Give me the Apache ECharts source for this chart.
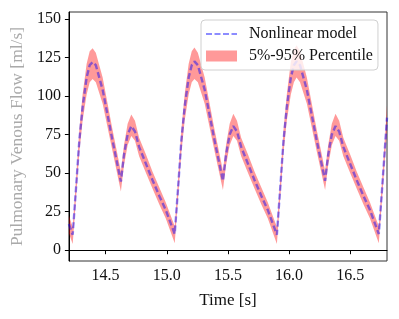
<!DOCTYPE html>
<html>
<head>
<meta charset="utf-8">
<script src="https://cdn.jsdelivr.net/npm/echarts@6/dist/echarts.min.js"></script>
<style>html,body{margin:0;padding:0;background:#fff}#c{width:399px;height:319px}</style>
</head>
<body>
<div id="c"></div>
<script>
// Time [s]
var time = [
  14.200, 14.231, 14.258, 14.285, 14.312, 14.345, 14.370, 14.394, 14.420, 14.476, 14.557, 14.625, 14.650, 14.680, 14.710, 14.740, 14.774, 14.830, 14.883, 14.940, 14.992,
  15.065, 15.092, 15.119, 15.146, 15.179, 15.204, 15.226, 15.254, 15.310, 15.391, 15.459, 15.484, 15.514, 15.544, 15.574, 15.608, 15.664, 15.717, 15.774, 15.826,
  15.900, 15.927, 15.954, 15.981, 16.014, 16.039, 16.061, 16.089, 16.145, 16.226, 16.294, 16.319, 16.349, 16.379, 16.409, 16.443, 16.499, 16.552, 16.609, 16.661,
  16.733, 16.760, 16.787, 16.800
];
// Nonlinear model flow [ml/s]
var flow = [
  17, 10, 40, 71, 93, 112, 120, 122, 120, 104, 71, 44.5, 62, 75, 80.5, 77, 67, 56, 45.5, 35, 26,
  10.5, 40, 71, 93, 112, 120, 122.5, 120, 104, 71, 45, 62, 75, 80.5, 77, 67, 56, 45.5, 35, 26,
  10, 40, 71, 93, 112, 120, 122.5, 120, 104, 71, 45, 62, 75, 80.5, 77, 67, 56, 45.5, 35, 26,
  10.5, 40, 71, 86
];
// 5% percentile
var lower = [
  11, 4, 33, 63, 84, 101, 109, 111, 109, 95, 64, 38, 55, 68, 74, 71, 61, 50, 40, 29.5, 20.5,
  4.5, 33, 63, 84, 101, 109, 111, 109, 95, 64, 39, 55, 68, 74, 71, 61, 50, 40, 29.5, 20.5,
  4, 33, 63, 84, 101, 109, 112, 109, 95, 64, 39, 55, 68, 74, 71, 61, 50, 40, 29.5, 20.5,
  4.5, 33, 63, 78
];
// 95% percentile
var upper = [
  22.5, 15, 46, 78, 101, 121, 129, 131, 128, 112, 78, 51, 68, 82, 88, 84, 73, 62, 51, 40.5, 31,
  15.5, 46, 78, 101, 121, 129, 131.5, 128, 112, 78, 51.5, 68, 82, 88.5, 84, 73, 62, 51, 40.5, 31,
  15, 46, 78, 101, 122, 130, 133, 129, 112, 78, 51.5, 68, 82, 88.5, 84, 73, 62, 51, 40.5, 31,
  15.5, 46, 78, 94
];
var yTicks = [0, 25, 50, 75, 100, 125, 150];
var xTicks = [14.5, 15.0, 15.5, 16.0, 16.5];

var FONT = 'Liberation Serif';
var bandData = time.map(function (t, i) { return [t, lower[i], upper[i]]; });
var linePts = time.map(function (t, i) { return [t, flow[i]]; });

var chart = echarts.init(document.getElementById('c'), null, {renderer: 'canvas'});
chart.setOption({
  animation: false,
  backgroundColor: '#fff',
  grid: {left: 68, right: 12, top: 12, bottom: 58, show: true, borderColor: '#333', borderWidth: 1, backgroundColor: 'transparent'},
  legend: {
    orient: 'vertical', left: 201, top: 20,
    itemWidth: 31, itemHeight: 11, itemGap: 6,
    padding: [6, 5, 6, 5],
    backgroundColor: 'rgba(255,255,255,0.8)',
    borderColor: '#d0d0d0', borderWidth: 1, borderRadius: 4,
    textStyle: {fontFamily: FONT, fontSize: 16, color: '#111', padding: [0, 0, 0, 7]},
    data: [
      {name: 'Nonlinear model',
       icon: 'path://M0,0h6v2h-6zM8.5,0h6v2h-6zM17,0h6v2h-6zM25.5,0h5.5v2h-5.5z',
       itemStyle: {color: 'rgba(0,0,255,0.45)'}},
      {name: '5%-95% Percentile', icon: 'rect', itemStyle: {color: 'rgba(255,0,0,0.4)'}}
    ]
  },
  xAxis: {
    type: 'value', min: 14.2, max: 16.8,
    name: 'Time [s]', nameLocation: 'middle', nameGap: 31,
    nameTextStyle: {fontFamily: FONT, fontSize: 17, color: '#111'},
    axisLine: {lineStyle: {color: '#000', width: 1}},
    axisTick: {show: true, length: 4, lineStyle: {color: '#000'}, customValues: xTicks},
    axisLabel: {fontFamily: FONT, fontSize: 16, color: '#111', margin: 7, customValues: xTicks,
      formatter: function (v) { return v.toFixed(1); }},
    splitLine: {show: false}
  },
  yAxis: {
    type: 'value', min: -7, max: 154.5,
    name: 'Pulmonary Venous Flow [ml/s]', nameLocation: 'middle', nameGap: 40, nameRotate: 90,
    nameTextStyle: {fontFamily: FONT, fontSize: 17.5, color: '#aaaaaa'},
    axisLine: {show: true, lineStyle: {color: '#000', width: 1}},
    axisTick: {show: true, length: 4, lineStyle: {color: '#000'}, customValues: yTicks},
    axisLabel: {fontFamily: FONT, fontSize: 16, color: '#111', margin: 8, customValues: yTicks},
    splitLine: {show: false}
  },
  series: [
    {
      name: '5%-95% Percentile', type: 'custom', data: bandData,
      encode: {x: 0, y: [1, 2]},
      itemStyle: {color: 'rgba(255,0,0,0.4)'},
      silent: true, z: 1,
      renderItem: function (params, api) {
        if (params.dataIndex !== 0) return null;
        var pts = [];
        var i;
        for (i = 0; i < bandData.length; i++) pts.push(api.coord([bandData[i][0], bandData[i][2]]));
        for (i = bandData.length - 1; i >= 0; i--) pts.push(api.coord([bandData[i][0], bandData[i][1]]));
        return {type: 'polygon', shape: {points: pts}, style: {fill: 'rgba(255,0,0,0.4)'}};
      }
    },
    {
      name: 'Nonlinear model', type: 'line', data: linePts,
      symbol: 'none', showSymbol: false, itemStyle: {color: 'rgba(0,0,255,0.45)'},
      lineStyle: {color: 'rgba(0,0,255,0.45)', width: 2.4, type: [6, 3]}, z: 2
    }
  ]
});
</script>
</body>
</html>
